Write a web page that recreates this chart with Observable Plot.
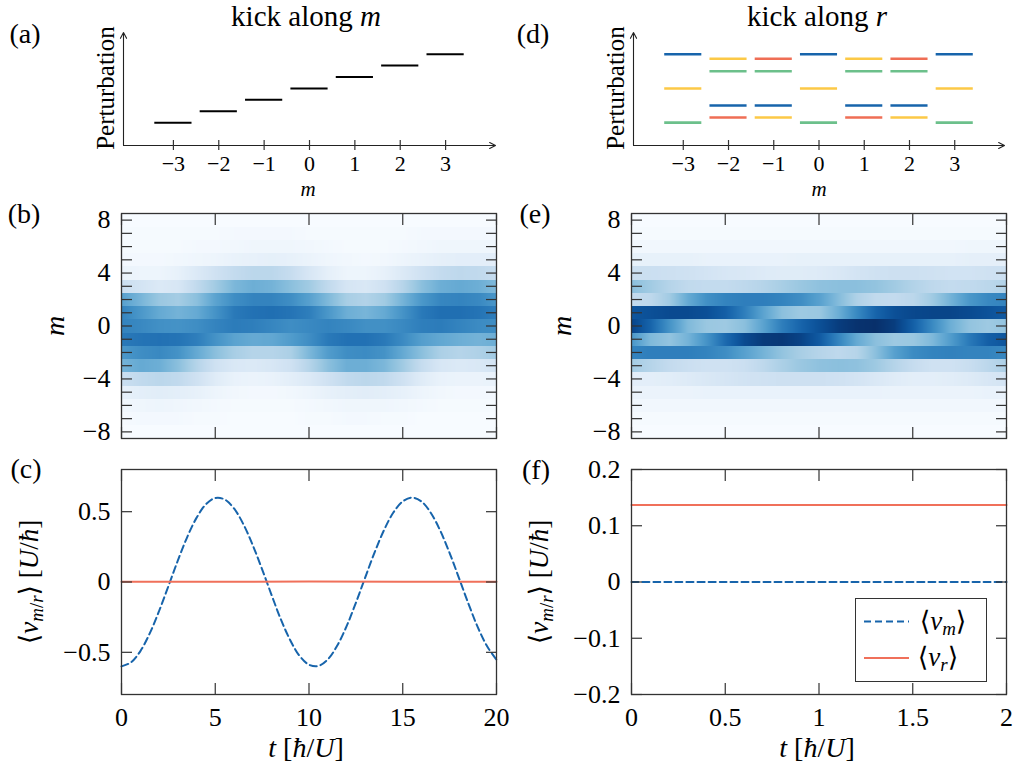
<!DOCTYPE html>
<html><head><meta charset="utf-8">
<script src="https://cdn.jsdelivr.net/npm/d3@7"></script>
<script src="https://cdn.jsdelivr.net/npm/@observablehq/plot@0.6"></script>
<style>
body{margin:0;background:#fff;}
#fig{position:relative;width:1014px;height:769px;font-family:"Liberation Serif","DejaVu Serif",serif;color:#000;overflow:hidden;}
#fig svg text{font-family:"Liberation Serif","DejaVu Serif",serif !important;}
.p{position:absolute;}
.p svg{overflow:visible;}
.t{position:absolute;white-space:nowrap;transform:translate(-50%,-50%);line-height:1;}
.r{transform:translate(-50%,-50%) rotate(-90deg);}
.t i{font-style:italic;font-family:"Liberation Serif","DejaVu Serif",serif;}
.t sub{font-size:0.7em;vertical-align:-0.28em;line-height:0;}
</style></head><body><div id="fig"></div>
<script>
// ---------------- data ----------------
const mTicks = [-3, -2, -1, 0, 1, 2, 3];
const mAxisExtent = [-4.1, 4.1];
const pertAxisTop = 9.9;
// (a) kick along m: one level per m
const kickMLevel = [2, 3, 4, 5, 6, 7, 8];
// (d) kick along r: several levels per m, coloured by state
const kickRm = [-3,-3,-3, -2,-2,-2,-2, -1,-1,-1,-1, 0,0,0, 1,1,1,1, 2,2,2,2, 3,3,3];
const kickRLevel = [8.0,5.0,2.0, 7.6,6.5,3.5,2.45, 7.6,6.5,3.5,2.45, 8.0,5.0,2.0, 7.6,6.5,3.5,2.45, 7.6,6.5,3.5,2.45, 8.0,5.0,2.0];
const kickRState = ["s1","s2","s3", "s2","s3","s1","s4", "s4","s3","s1","s2", "s1","s2","s3", "s2","s3","s1","s4", "s4","s3","s1","s2", "s1","s2","s3"];
const stateNames = ["s1", "s2", "s3", "s4"];

// heat maps: rows m = 8 … -8
const mRows = [8,7,6,5,4,3,2,1,0,-1,-2,-3,-4,-5,-6,-7,-8];
const mTickAll = [-8,-7,-6,-5,-4,-3,-2,-1,0,1,2,3,4,5,6,7,8];
const mTickLabels = [-8, -4, 0, 4, 8];
const tB = [0,1,2,3,4,5,6,7,8,9,10,11,12,13,14,15,16,17,18,19,20];
const densB = [
  [0,0,0,0,0,0,0,0,0,0,0,0,0,0,0,0,0,0,0,0,0],
  [0.01,0.01,0.01,0.01,0.01,0.01,0.02,0.02,0.02,0.02,0.01,0.01,0.01,0.01,0.01,0.01,0.02,0.02,0.02,0.02,0.02],
  [0.01,0.01,0.01,0.01,0.02,0.02,0.03,0.04,0.04,0.04,0.03,0.02,0.01,0.01,0.01,0.02,0.03,0.04,0.04,0.04,0.04],
  [0.02,0.02,0.02,0.03,0.04,0.05,0.07,0.08,0.09,0.08,0.06,0.04,0.03,0.02,0.03,0.05,0.07,0.09,0.10,0.10,0.10],
  [0.06,0.05,0.05,0.08,0.14,0.20,0.25,0.28,0.28,0.24,0.16,0.09,0.05,0.05,0.08,0.14,0.20,0.25,0.27,0.26,0.24],
  [0.22,0.18,0.14,0.16,0.26,0.36,0.46,0.50,0.48,0.42,0.36,0.26,0.17,0.15,0.20,0.30,0.42,0.50,0.52,0.50,0.45],
  [0.56,0.47,0.38,0.35,0.42,0.55,0.64,0.68,0.68,0.64,0.56,0.45,0.34,0.31,0.36,0.48,0.60,0.67,0.68,0.66,0.60],
  [0.68,0.60,0.52,0.48,0.52,0.62,0.72,0.75,0.76,0.74,0.70,0.60,0.50,0.47,0.52,0.62,0.72,0.76,0.76,0.74,0.70],
  [0.68,0.66,0.63,0.62,0.64,0.68,0.71,0.70,0.67,0.64,0.66,0.68,0.66,0.63,0.63,0.66,0.70,0.71,0.68,0.65,0.64],
  [0.72,0.74,0.75,0.74,0.70,0.62,0.55,0.52,0.53,0.58,0.64,0.72,0.75,0.75,0.72,0.65,0.57,0.53,0.50,0.48,0.50],
  [0.60,0.64,0.66,0.62,0.52,0.42,0.34,0.30,0.30,0.33,0.46,0.58,0.64,0.65,0.62,0.52,0.42,0.33,0.30,0.32,0.36],
  [0.48,0.52,0.50,0.42,0.30,0.20,0.15,0.14,0.16,0.20,0.30,0.42,0.50,0.50,0.46,0.36,0.24,0.16,0.14,0.15,0.18],
  [0.22,0.26,0.28,0.26,0.20,0.12,0.07,0.06,0.07,0.10,0.14,0.20,0.26,0.28,0.26,0.20,0.12,0.07,0.06,0.06,0.07],
  [0.08,0.10,0.11,0.10,0.08,0.05,0.03,0.02,0.02,0.03,0.05,0.08,0.10,0.11,0.10,0.08,0.05,0.03,0.02,0.02,0.02],
  [0.03,0.04,0.05,0.04,0.03,0.02,0.01,0.01,0.01,0.01,0.02,0.03,0.04,0.04,0.04,0.03,0.02,0.01,0.01,0.01,0.01],
  [0.01,0.02,0.02,0.02,0.01,0.01,0,0,0,0,0.01,0.01,0.02,0.02,0.01,0.01,0,0,0,0,0],
  [0,0,0,0,0,0,0,0,0,0,0,0,0,0,0,0,0,0,0,0,0]
];
const tE = [0,0.1,0.2,0.3,0.4,0.5,0.6,0.7,0.8,0.9,1.0,1.1,1.2,1.3,1.4,1.5,1.6,1.7,1.8,1.9,2.0];
const densE = [
  [0,0,0,0,0,0,0,0,0,0,0,0,0,0,0,0,0,0,0,0,0],
  [0.01,0.01,0.01,0.01,0.01,0.01,0.01,0.01,0.01,0.01,0.01,0.01,0.01,0.01,0.01,0.01,0.01,0.01,0.01,0.01,0.01],
  [0.03,0.03,0.03,0.03,0.03,0.03,0.03,0.03,0.03,0.03,0.03,0.03,0.03,0.03,0.03,0.03,0.03,0.03,0.04,0.04,0.04],
  [0.08,0.08,0.08,0.08,0.07,0.07,0.07,0.07,0.07,0.08,0.08,0.08,0.08,0.08,0.08,0.08,0.08,0.08,0.09,0.09,0.09],
  [0.22,0.22,0.21,0.20,0.18,0.16,0.15,0.13,0.12,0.12,0.13,0.15,0.18,0.20,0.21,0.21,0.20,0.19,0.19,0.20,0.21],
  [0.42,0.36,0.30,0.26,0.25,0.25,0.27,0.30,0.34,0.38,0.41,0.42,0.42,0.40,0.36,0.31,0.27,0.25,0.26,0.28,0.31],
  [0.25,0.27,0.36,0.52,0.63,0.68,0.70,0.70,0.68,0.64,0.56,0.44,0.32,0.26,0.25,0.28,0.36,0.48,0.60,0.66,0.68],
  [0.86,0.88,0.90,0.90,0.88,0.82,0.70,0.55,0.42,0.37,0.38,0.50,0.66,0.80,0.88,0.91,0.92,0.92,0.90,0.87,0.84],
  [0.92,0.80,0.62,0.45,0.38,0.37,0.42,0.55,0.70,0.80,0.88,0.95,0.99,1.00,0.95,0.82,0.66,0.50,0.40,0.37,0.40],
  [0.60,0.45,0.40,0.48,0.62,0.78,0.90,0.96,0.97,0.93,0.84,0.68,0.52,0.42,0.37,0.38,0.45,0.58,0.72,0.82,0.86],
  [0.68,0.70,0.70,0.70,0.68,0.64,0.56,0.48,0.40,0.34,0.30,0.27,0.30,0.42,0.56,0.65,0.68,0.69,0.68,0.68,0.66],
  [0.35,0.30,0.25,0.22,0.20,0.20,0.22,0.27,0.33,0.38,0.41,0.42,0.41,0.37,0.30,0.24,0.20,0.20,0.23,0.28,0.33],
  [0.10,0.10,0.11,0.13,0.15,0.17,0.19,0.20,0.21,0.21,0.21,0.20,0.18,0.15,0.12,0.10,0.10,0.11,0.13,0.16,0.18],
  [0.06,0.06,0.06,0.06,0.07,0.07,0.07,0.07,0.07,0.07,0.07,0.07,0.07,0.07,0.06,0.06,0.06,0.06,0.06,0.07,0.07],
  [0.03,0.03,0.03,0.03,0.03,0.03,0.03,0.03,0.03,0.03,0.03,0.03,0.03,0.03,0.03,0.03,0.03,0.03,0.03,0.03,0.03],
  [0.01,0.01,0.01,0.01,0.01,0.01,0.01,0.01,0.01,0.01,0.01,0.01,0.01,0.01,0.01,0.01,0.01,0.01,0.01,0.01,0.01],
  [0,0,0,0,0,0,0,0,0,0,0,0,0,0,0,0,0,0,0,0,0]
];

// (c) velocities, kick along m
const tC = [0,0.5,1,1.5,2,2.5,3,3.5,4,4.5,5,5.5,6,6.5,7,7.5,8,8.5,9,9.5,10,10.5,11,11.5,12,12.5,13,13.5,14,14.5,15,15.5,16,16.5,17,17.5,18,18.5,19,19.5,20];
const vmC = [-0.600,-0.572,-0.493,-0.367,-0.208,-0.030,0.151,0.318,0.456,0.552,0.597,0.587,0.523,0.411,0.262,0.090,-0.091,-0.266,-0.414,-0.526,-0.588,-0.597,-0.551,-0.454,-0.316,-0.148,0.033,0.211,0.369,0.494,0.573,0.600,0.572,0.491,0.365,0.206,0.028,-0.153,-0.321,-0.457,-0.553];
const tRC = [0, 5, 10, 15, 20];
const vrC = [0.002, 0.002, 0.003, 0.002, 0.002];
const tTicksC = [0, 5, 10, 15, 20];
const vTicksC = [-0.5, 0, 0.5];
// (f) velocities, kick along r
const tF = [0, 0.5, 1, 1.5, 2];
const vmF = [0, 0, 0, 0, 0];
const vrF = [0.137, 0.137, 0.137, 0.137, 0.137];
const tTicksF = [0, 0.5, 1, 1.5, 2];
const vTicksF = [-0.2, -0.1, 0, 0.1, 0.2];

// ---------------- helpers ----------------
const BLUE = "#1764ab", RED = "#f0705a";
const stateColors = ["#1764ab", "#fcc946", "#6cc08b", "#ef6e55"];
const FONT = '"Liberation Serif","DejaVu Serif",serif';
const AX = "#333";
const fmt = d => String(d).replace("-", "\u2212");
const fig = document.getElementById("fig");
function place(node, left, top) {
  const d = document.createElement("div");
  d.className = "p"; d.style.left = left + "px"; d.style.top = top + "px";
  d.appendChild(node); fig.appendChild(d);
}
function label(html, x, y, size, rot, lh) {
  const d = document.createElement("div");
  d.className = "t" + (rot ? " r" : "");
  d.style.left = x + "px"; d.style.top = y + "px"; d.style.fontSize = size + "px";
  if (lh) d.style.lineHeight = lh;
  d.innerHTML = html; fig.appendChild(d);
}
const baseStyle = {fontFamily: FONT, fontSize: "26px", color: "#000", background: "transparent", overflow: "visible"};

// interpolate along time only (rows of m stay discrete)
function rowInterp(index, w, h, X, Y, V) {
  const out = new Float64Array(w * h).fill(NaN);
  const rows = Array.from({length: h}, () => []);
  for (const i of index) {
    const r = Math.max(0, Math.min(h - 1, Math.floor(Y[i])));
    rows[r].push([X[i], V[i]]);
  }
  for (let r = 0; r < h; r++) {
    const pts = rows[r].sort((a, b) => a[0] - b[0]);
    if (!pts.length) continue;
    let j = 0;
    for (let c = 0; c < w; c++) {
      const xc = c + 0.5;
      while (j < pts.length - 2 && pts[j + 1][0] < xc) j++;
      let v;
      if (pts.length === 1) v = pts[0][1];
      else {
        const [x0, v0] = pts[j], [x1, v1] = pts[j + 1];
        const f = Math.max(0, Math.min(1, (xc - x0) / (x1 - x0)));
        v = v0 + f * (v1 - v0);
      }
      out[r * w + c] = v;
    }
  }
  return out;
}

function boxAxes(xTicks, yTicks, yLabelTicks, xLabelTicks) {
  const st = {stroke: AX, strokeWidth: 1.2, label: null};
  return [
    Plot.axisX(xTicks, {anchor: "bottom", tickSize: -11, fill: "none", ...st}),
    Plot.axisX(xTicks, {anchor: "top", tickSize: -11, fill: "none", ...st}),
    Plot.axisY(yTicks, {anchor: "left", tickSize: -11, fill: "none", ...st}),
    Plot.axisY(yTicks, {anchor: "right", tickSize: -11, fill: "none", ...st}),
    Plot.axisY(yLabelTicks, {anchor: "left", tickSize: 0, tickPadding: 11, tickFormat: fmt, label: null}),
    xLabelTicks ? Plot.axisX(xLabelTicks, {anchor: "bottom", tickSize: 0, tickPadding: 13, tickFormat: fmt, label: null}) : null,
    Plot.frame({stroke: AX, strokeWidth: 1.3})
  ];
}

// ---------------- (a) & (d) level diagrams ----------------
function levelPanel(data, ml, mr, strokeOpt, sw, colorOpt) {
  const axisArrows = [
    {x1: mAxisExtent[0], y1: 0, x2: mAxisExtent[1], y2: 0},
    {x1: mAxisExtent[0], y1: 0, x2: mAxisExtent[0], y2: pertAxisTop}
  ];
  return Plot.plot({
    width: 507, height: 200,
    marginLeft: ml, marginRight: mr, marginTop: 32, marginBottom: 55,
    x: {domain: mAxisExtent, axis: null},
    y: {domain: [0, pertAxisTop], axis: null},
    color: colorOpt,
    style: {...baseStyle, fontSize: "22px"},
    marks: [
      Plot.arrow(axisArrows, {x1: "x1", y1: "y1", x2: "x2", y2: "y2", stroke: "#222", strokeWidth: 1.1, headLength: 9, headAngle: 55}),
      Plot.axisX(mTicks, {anchor: "bottom", tickSize: 5, fill: "none", stroke: "#333", strokeWidth: 1.2, label: null}),
      Plot.axisX(mTicks, {anchor: "bottom", tickSize: -5, fill: "none", stroke: "#333", strokeWidth: 1.2, label: null}),
      Plot.axisX(mTicks, {anchor: "bottom", tickSize: 0, tickPadding: 10, tickFormat: fmt, label: null}),
      Plot.ruleY(data, {y: "p", x1: d => d.m - 0.41, x2: d => d.m + 0.41, stroke: strokeOpt, strokeWidth: sw})
    ]
  });
}
const dataA = mTicks.map((m, i) => ({m, p: kickMLevel[i]}));
place(levelPanel(dataA, 123, 12, "#000", 2), 0, 0);
const dataD = kickRm.map((m, i) => ({m, p: kickRLevel[i], s: kickRState[i]}));
place(levelPanel(dataD, 126, 10, "s", 2.6, {type: "ordinal", domain: stateNames, range: stateColors}), 507, 0);

// ---------------- (b) & (e) heat maps ----------------
function heatPanel(dens, tVals, ml, mr) {
  const data = [];
  mRows.forEach((m, i) => tVals.forEach((t, j) => data.push({t, m, v: dens[i][j]})));
  const t0 = tVals[0], t1 = tVals[tVals.length - 1];
  const xt = [t0, t0 + (t1 - t0) / 4, t0 + (t1 - t0) / 2, t0 + 3 * (t1 - t0) / 4, t1];
  return Plot.plot({
    width: 507, height: 250,
    marginLeft: ml, marginRight: mr, marginTop: 13, marginBottom: 12,
    x: {domain: [t0, t1], axis: null},
    y: {domain: [-8.5, 8.5], axis: null},
    color: {type: "linear", scheme: "blues", domain: [0, 1]},
    style: baseStyle,
    marks: [
      Plot.raster(data, {x: "t", y: "m", fill: "v", x1: t0, x2: t1, y1: -8.5, y2: 8.5,
        width: 375, height: 17, interpolate: rowInterp, imageRendering: "pixelated"}),
      ...boxAxes(xt, mTickAll, mTickLabels, null)
    ]
  });
}
place(heatPanel(densB, tB, 121, 11), 0, 200);
place(heatPanel(densE, tE, 124, 8), 507, 200);

// ---------------- (c) & (f) velocities ----------------
function velPanel(tm, vm, tr, vr, yDom, xTicks, yTicks, ml, mr) {
  return Plot.plot({
    width: 507, height: 319,
    marginLeft: ml, marginRight: mr, marginTop: 19, marginBottom: 75,
    x: {domain: [xTicks[0], xTicks[xTicks.length - 1]], axis: null},
    y: {domain: yDom, axis: null},
    style: baseStyle,
    marks: [
      Plot.lineY(vm, {x: tm, stroke: BLUE, strokeWidth: 2, strokeDasharray: "7,4", curve: "catmull-rom"}),
      Plot.lineY(vr, {x: tr, stroke: RED, strokeWidth: 2, curve: "linear"}),
      ...boxAxes(xTicks, yTicks, yTicks, xTicks)
    ]
  });
}
place(velPanel(tC, vmC, tRC, vrC, [-0.8, 0.8], tTicksC, vTicksC, 121, 11), 0, 450);
place(velPanel(tF, vmF, tF, vrF, [-0.2, 0.2], tTicksF, vTicksF, 124, 8), 507, 450);

// legend (f)
const leg = document.createElement("div");
leg.style.cssText = "position:absolute;left:855px;top:598px;width:132px;height:84px;border:1.3px solid #333;background:#fff;box-sizing:border-box;";
fig.appendChild(leg);
const ls = d3.create("svg").attr("width", 1014).attr("height", 769)
  .style("position", "absolute").style("left", "0px").style("top", "0px").style("pointer-events", "none");
ls.append("line").attr("x1", 864).attr("x2", 909).attr("y1", 621.5).attr("y2", 621.5)
  .attr("stroke", BLUE).attr("stroke-width", 2).attr("stroke-dasharray", "7,4");
ls.append("line").attr("x1", 864).attr("x2", 909).attr("y1", 658).attr("y2", 658)
  .attr("stroke", RED).attr("stroke-width", 2);
fig.appendChild(ls.node());

// ---------------- text ----------------
label("kick along <i>m</i>", 306, 16, 29);
label("kick along <i>r</i>", 817, 16, 29);
label("(a)", 25, 34, 28); label("(b)", 24, 214, 28); label("(c)", 26, 469, 28);
label("(d)", 533, 34, 28); label("(e)", 535, 214, 28); label("(f)", 536, 470, 28);
label("Perturbation", 105, 88, 25, true);
label("Perturbation", 615, 88, 25, true);
label("<i>m</i>", 308, 189, 21);
label("<i>m</i>", 819, 189, 21);
label("<i>m</i>", 55, 326, 28, true);
label("<i>m</i>", 562, 326, 28, true);
const vLab = "\u27E8<i>v</i><sub><i>m</i>/<i>r</i></sub>\u27E9 [<i>U</i>/<i>\u0127</i>]";
label(vLab, 29, 582, 27, true);
label(vLab, 539, 582, 27, true);
label("<i>t</i> [<i>\u0127</i>/<i>U</i>]", 306, 748, 28);
label("<i>t</i> [<i>\u0127</i>/<i>U</i>]", 817, 748, 28);
label("\u27E8<i>v</i><sub><i>m</i></sub>\u27E9", 943, 621, 27);
label("\u27E8<i>v</i><sub><i>r</i></sub>\u27E9", 938, 657, 27);
</script></body></html>
